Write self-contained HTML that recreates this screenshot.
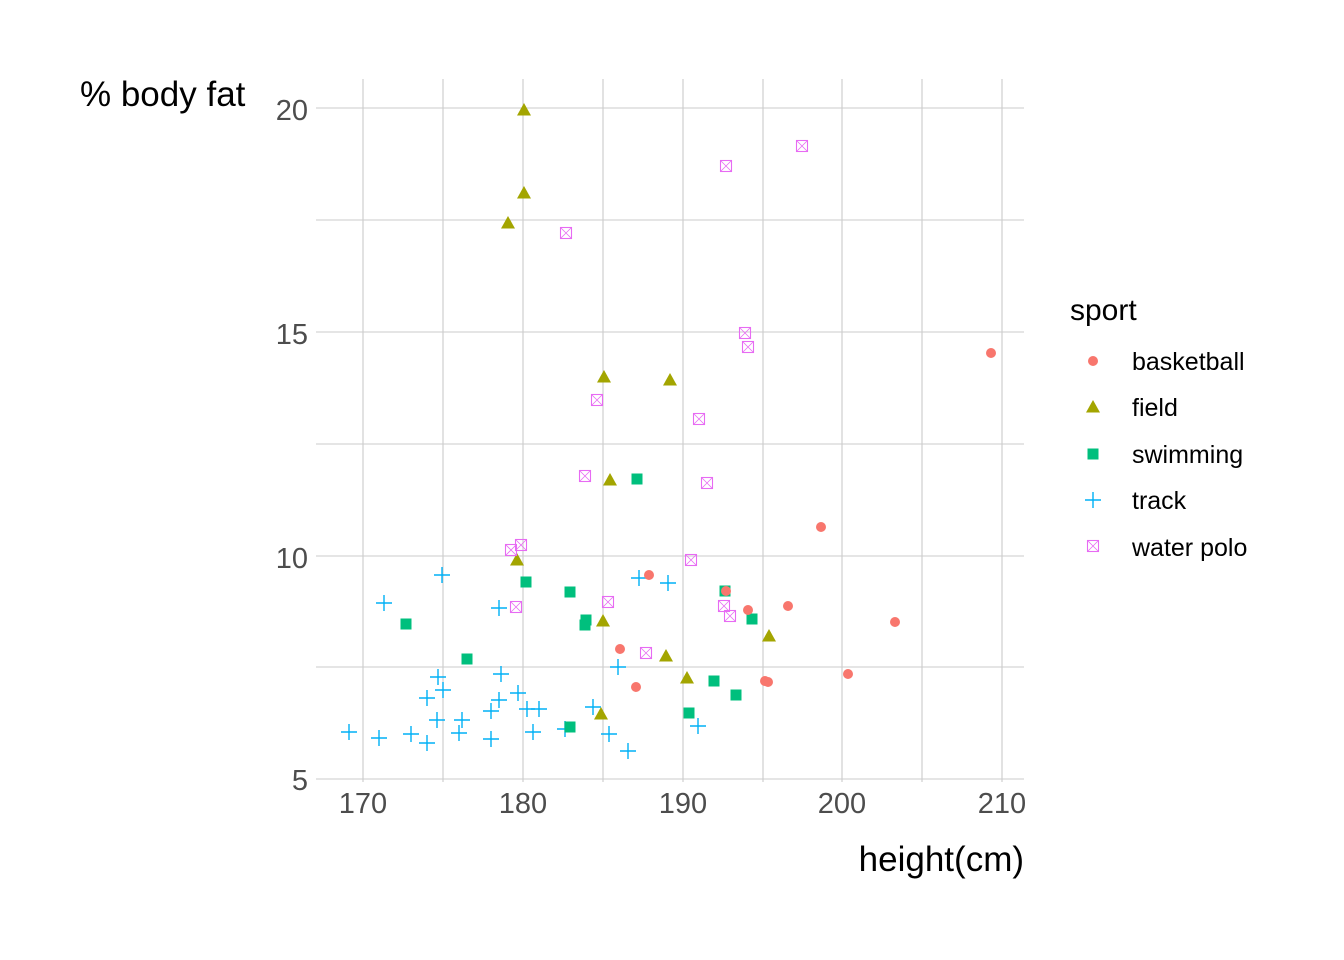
<!DOCTYPE html>
<html><head><meta charset="utf-8"><style>
html,body{margin:0;padding:0;background:#fff;}
svg{display:block;font-family:"Liberation Sans",Arial,sans-serif;}
</style></head><body>
<svg width="1344" height="960" viewBox="0 0 1344 960" xmlns="http://www.w3.org/2000/svg">
<defs>
<g id="bb"><circle r="5" fill="#F8766D"/></g>
<g id="fd"><polygon points="0,-7 7,5.5 -7,5.5" fill="#A3A500"/></g>
<g id="sw"><rect x="-5.5" y="-5.5" width="11" height="11" fill="#00BF7D"/></g>
<g id="tr"><path d="M-8,0H8M0,-8V8" stroke="#00B0F6" stroke-width="1.4" fill="none"/></g>
<g id="wp"><rect x="-5.5" y="-5.5" width="11" height="11" fill="none" stroke="#E76BF3" stroke-width="1.1"/><path d="M-5.5,-5.5L5.5,5.5M5.5,-5.5L-5.5,5.5" stroke="#E76BF3" stroke-width="0.8"/></g>
</defs>
<g stroke="#cbcbcb" stroke-width="1.1">
<path d="M316,108H1024M316,220H1024M316,332H1024M316,444H1024M316,556H1024M316,667H1024M316,779H1024"/>
<path d="M363,79V782M443,79V782M523,79V782M603,79V782M683,79V782M763,79V782M842,79V782M922,79V782M1002,79V782"/>
</g>
<g font-size="29" fill="#4d4d4d" text-anchor="end">
<text x="308" y="120">20</text><text x="308" y="344">15</text><text x="308" y="568">10</text><text x="308" y="790">5</text>
</g>
<g font-size="29" fill="#4d4d4d" text-anchor="middle">
<text x="363" y="813">170</text><text x="523" y="813">180</text><text x="683" y="813">190</text><text x="842" y="813">200</text><text x="1002" y="813">210</text>
</g>
<text x="80" y="106" font-size="35" fill="#000">% body fat</text>
<text x="1024" y="871" font-size="35" fill="#000" text-anchor="end">height(cm)</text>
<g>
<use href="#tr" x="442" y="575"/><use href="#tr" x="384" y="603"/><use href="#tr" x="499" y="608"/><use href="#tr" x="618" y="667"/><use href="#tr" x="639" y="578"/><use href="#tr" x="668" y="583"/><use href="#tr" x="438" y="677"/><use href="#tr" x="443" y="690"/><use href="#tr" x="427" y="698"/><use href="#tr" x="501" y="674"/><use href="#tr" x="518" y="693"/><use href="#tr" x="499" y="700"/><use href="#tr" x="491" y="711"/><use href="#tr" x="437" y="720"/><use href="#tr" x="462" y="720"/><use href="#tr" x="527" y="709"/><use href="#tr" x="539" y="709"/><use href="#tr" x="593" y="707"/><use href="#tr" x="349" y="732"/><use href="#tr" x="379" y="738"/><use href="#tr" x="411" y="734"/><use href="#tr" x="427" y="743"/><use href="#tr" x="459" y="733"/><use href="#tr" x="491" y="739"/><use href="#tr" x="533" y="732"/><use href="#tr" x="565" y="729"/><use href="#tr" x="609" y="734"/><use href="#tr" x="628" y="751"/><use href="#tr" x="698" y="726"/>
<use href="#sw" x="526" y="582"/><use href="#sw" x="570" y="592"/><use href="#sw" x="406" y="624"/><use href="#sw" x="586" y="620"/><use href="#sw" x="585" y="625"/><use href="#sw" x="467" y="659"/><use href="#sw" x="725" y="591"/><use href="#sw" x="752" y="619"/><use href="#sw" x="714" y="681"/><use href="#sw" x="736" y="695"/><use href="#sw" x="689" y="713"/><use href="#sw" x="570" y="727"/><use href="#sw" x="637" y="479"/>
<use href="#fd" x="517" y="560"/><use href="#fd" x="603" y="621"/><use href="#fd" x="666" y="656"/><use href="#fd" x="769" y="636"/><use href="#fd" x="687" y="678"/><use href="#fd" x="601" y="714"/><use href="#fd" x="524" y="110"/><use href="#fd" x="524" y="193"/><use href="#fd" x="508" y="223"/><use href="#fd" x="604" y="377"/><use href="#fd" x="670" y="380"/><use href="#fd" x="610" y="480"/>
<use href="#bb" x="649" y="575"/><use href="#bb" x="726" y="591"/><use href="#bb" x="748" y="610"/><use href="#bb" x="620" y="649"/><use href="#bb" x="636" y="687"/><use href="#bb" x="765" y="681"/><use href="#bb" x="768" y="682"/><use href="#bb" x="991" y="353"/><use href="#bb" x="821" y="527"/><use href="#bb" x="788" y="606"/><use href="#bb" x="895" y="622"/><use href="#bb" x="848" y="674"/>
<use href="#wp" x="691" y="560"/><use href="#wp" x="516" y="607"/><use href="#wp" x="608" y="602"/><use href="#wp" x="724" y="606"/><use href="#wp" x="730" y="616"/><use href="#wp" x="646" y="653"/><use href="#wp" x="802" y="146"/><use href="#wp" x="726" y="166"/><use href="#wp" x="566" y="233"/><use href="#wp" x="745" y="333"/><use href="#wp" x="748" y="347"/><use href="#wp" x="597" y="400"/><use href="#wp" x="699" y="419"/><use href="#wp" x="585" y="476"/><use href="#wp" x="707" y="483"/><use href="#wp" x="521" y="545"/><use href="#wp" x="511" y="550"/>
</g>
<text x="1070" y="320" font-size="30" fill="#000">sport</text>
<use href="#bb" x="1093" y="361"/><use href="#fd" x="1093" y="407"/><use href="#sw" x="1093" y="454"/><use href="#tr" x="1093" y="500"/><use href="#wp" x="1093" y="546"/>
<g font-size="25" fill="#000">
<text x="1132" y="370">basketball</text><text x="1132" y="416">field</text><text x="1132" y="463">swimming</text><text x="1132" y="509">track</text><text x="1132" y="556">water polo</text>
</g>
</svg>
</body></html>
